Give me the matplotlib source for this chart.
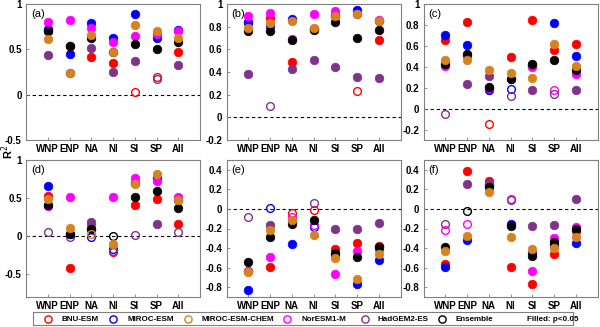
import matplotlib
matplotlib.use('Agg')
import matplotlib.pyplot as plt
from matplotlib.ticker import FormatStrFormatter

plt.rcParams['font.family'] = ['Liberation Sans', 'DejaVu Sans']

REGIONS = ['WNP', 'ENP', 'NA', 'NI', 'SI', 'SP', 'All']
MODELS = ['BNU-ESM', 'MIROC-ESM', 'MIROC-ESM-CHEM', 'NorESM1-M', 'HadGEM2-ES', 'Ensemble']
COLORS = ['#ff0000', '#0000ff', '#d6821f', '#ff00ff', '#7f348c', '#000000']

# R^2 per model (rows follow MODELS), columns follow REGIONS
R2_A = [
	[0.70, 0.54, 0.42, 0.35, 0.03, 0.20, 0.47],
	[0.72, 0.45, 0.79, 0.63, 0.89, 0.62, 0.71],
	[0.61, 0.24, 0.66, 0.47, 0.77, 0.70, 0.62],
	[0.80, 0.82, 0.74, 0.58, 0.65, 0.67, 0.70],
	[0.44, 0.24, 0.51, 0.25, 0.37, 0.17, 0.33],
	[0.70, 0.54, 0.63, 0.47, 0.56, 0.50, 0.58],
]
SIG_A = [
	[1, 1, 1, 1, 0, 0, 1],
	[1, 1, 1, 1, 1, 1, 1],
	[1, 1, 1, 1, 1, 1, 1],
	[1, 1, 1, 1, 1, 1, 1],
	[1, 1, 1, 1, 1, 0, 1],
	[1, 1, 1, 1, 1, 1, 1],
]
R2_B = [
	[0.83, 0.88, 0.49, 0.78, 0.89, 0.23, 0.68],
	[0.84, 0.81, 0.87, 0.78, 0.90, 0.95, 0.85],
	[0.79, 0.83, 0.85, 0.79, 0.89, 0.91, 0.85],
	[0.89, 0.92, 0.69, 0.91, 0.94, 0.91, 0.86],
	[0.38, 0.10, 0.43, 0.51, 0.44, 0.36, 0.35],
	[0.76, 0.76, 0.68, 0.77, 0.84, 0.70, 0.77],
]
SIG_B = [
	[1, 1, 1, 1, 1, 0, 1],
	[1, 1, 1, 1, 1, 1, 1],
	[1, 1, 1, 1, 1, 1, 1],
	[1, 1, 1, 1, 1, 1, 1],
	[1, 0, 1, 1, 1, 1, 1],
	[1, 1, 1, 1, 1, 1, 1],
]
R2_C = [
	[0.66, 0.83, -0.15, 0.49, 0.85, 0.56, 0.62],
	[0.70, 0.61, 0.18, 0.19, 0.42, 0.82, 0.50],
	[0.46, 0.46, 0.37, 0.34, 0.29, 0.62, 0.41],
	[0.41, 0.50, 0.20, 0.28, 0.40, 0.18, 0.33],
	[-0.05, 0.24, 0.31, 0.12, 0.18, 0.14, 0.18],
	[0.43, 0.52, 0.21, 0.28, 0.43, 0.46, 0.37],
]
SIG_C = [
	[1, 1, 0, 1, 1, 1, 1],
	[1, 1, 1, 0, 1, 1, 1],
	[1, 1, 1, 1, 1, 1, 1],
	[1, 1, 1, 1, 1, 0, 1],
	[0, 1, 1, 0, 1, 0, 1],
	[1, 1, 1, 1, 1, 1, 1],
]
R2_D = [
	[0.53, -0.42, 0.09, -0.21, 0.41, 0.49, 0.16],
	[0.66, 0.03, -0.01, -0.17, 0.70, 0.77, 0.47],
	[0.49, 0.11, 0.03, -0.11, 0.69, 0.81, 0.47],
	[0.39, 0.51, 0.14, 0.51, 0.77, 0.72, 0.51],
	[0.06, -0.01, 0.19, -0.19, 0.02, 0.16, 0.06],
	[0.41, 0.03, 0.09, 0.00, 0.52, 0.59, 0.37],
]
SIG_D = [
	[1, 1, 1, 0, 1, 1, 1],
	[1, 1, 0, 0, 1, 1, 1],
	[1, 1, 0, 1, 1, 1, 1],
	[1, 1, 1, 1, 1, 1, 1],
	[0, 0, 1, 0, 0, 1, 0],
	[1, 1, 1, 0, 1, 1, 1],
]
R2_E = [
	[-0.63, -0.59, -0.04, -0.01, -0.41, -0.35, -0.38],
	[-0.83, 0.01, -0.36, -0.18, -0.47, -0.77, -0.52],
	[-0.64, -0.22, -0.11, -0.27, -0.50, -0.72, -0.46],
	[-0.63, -0.49, -0.08, -0.16, -0.67, -0.43, -0.41],
	[-0.08, -0.16, -0.12, 0.06, -0.20, -0.20, -0.14],
	[-0.54, -0.29, -0.15, -0.11, -0.45, -0.49, -0.39],
]
SIG_E = [
	[1, 1, 0, 0, 1, 1, 1],
	[1, 0, 1, 0, 1, 1, 1],
	[1, 1, 1, 1, 1, 1, 1],
	[1, 1, 0, 0, 1, 1, 1],
	[0, 1, 1, 0, 1, 1, 1],
	[1, 1, 1, 1, 1, 1, 1],
]
R2_F = [
	[-0.56, 0.39, 0.29, -0.59, -0.77, -0.46, -0.23],
	[-0.59, -0.32, 0.24, -0.15, -0.45, -0.37, -0.35],
	[-0.43, -0.28, 0.17, -0.29, -0.41, -0.40, -0.29],
	[-0.22, -0.15, 0.24, 0.10, -0.63, -0.30, -0.18],
	[-0.15, 0.25, 0.27, 0.09, -0.17, -0.16, 0.10],
	[-0.39, -0.02, 0.22, -0.17, -0.48, -0.34, -0.21],
]
SIG_F = [
	[1, 1, 1, 1, 1, 1, 1],
	[1, 1, 1, 1, 1, 1, 1],
	[1, 1, 1, 1, 1, 1, 1],
	[0, 0, 1, 0, 1, 1, 1],
	[0, 1, 1, 0, 1, 1, 1],
	[1, 0, 1, 1, 1, 1, 1],
]

# drawing order of the models (orange ends up on top)
DRAW_ORDER = [0, 1, 3, 4, 5, 2]

W, H = 600, 327
fig = plt.figure(figsize=(W / 100, H / 100), dpi=100)

panels = [
	('(a)', R2_A, SIG_A, (26, 4, 140), (-0.5, 1), [-0.5, 0, 0.5, 1]),
	('(b)', R2_B, SIG_B, (226.5, 4, 140), (-0.2, 1), [-0.2, 0, 0.2, 0.4, 0.6, 0.8, 1]),
	('(c)', R2_C, SIG_C, (423.5, 4, 140), (-0.3, 1), [-0.2, 0, 0.2, 0.4, 0.6, 0.8, 1]),
	('(d)', R2_D, SIG_D, (26, 160, 297), (-0.8, 1), [-0.5, 0, 0.5, 1]),
	('(e)', R2_E, SIG_E, (226.5, 160, 297), (-0.9, 0.5), [-0.8, -0.6, -0.4, -0.2, 0, 0.2, 0.4]),
	('(f)', R2_F, SIG_F, (423.5, 160, 297), (-0.9, 0.5), [-0.8, -0.6, -0.4, -0.2, 0, 0.2, 0.4]),
]

xs = list(range(1, len(REGIONS) + 1))
spine_col = '0.5'

for label, vals, sig, (left, top, bottom), ylim, yticks in panels:
	ax = fig.add_axes([left / W, 1 - bottom / H, 174 / W, (bottom - top) / H])
	ax.axhline(0, color='k', ls='--', lw=0.8, dashes=(3, 2.5), zorder=1)
	for m in DRAW_ORDER:
		col = COLORS[m]
		for x, v, s in zip(xs, vals[m], sig[m]):
			if s:
				ax.plot(x, v, 'o', ms=6.2, mfc=col, mec=col, mew=0.5, zorder=3)
			else:
				ax.plot(x, v, 'o', ms=5.6, mfc='none', mec=col, mew=1.0, zorder=3)
	ax.set_xlim(0, 8)
	ax.set_ylim(*ylim)
	ax.set_xticks(xs)
	ax.set_xticklabels(REGIONS)
	ax.set_yticks(yticks)
	ax.yaxis.set_major_formatter(FormatStrFormatter('%g'))
	ax.tick_params(direction='in', length=2.5, width=0.6, color=spine_col,
				   labelsize=7, pad=3)
	for t in ax.get_xticklabels() + ax.get_yticklabels():
		t.set_fontweight('bold')
	for sp in ax.spines.values():
		sp.set_color(spine_col)
		sp.set_linewidth(0.8)
	ax.text(0.03, 0.96, label, transform=ax.transAxes, ha='left', va='top', fontsize=8)

fig.text(8 / W, 1 - 152 / H, 'R$^2$', rotation=90, ha='center', va='center',
		 fontsize=8, fontweight='bold')

# legend box drawn by hand
leg = fig.add_axes([33 / W, 1 - 325 / H, 540 / W, 13 / H])
leg.set_xlim(33, 573)
leg.set_ylim(0, 1)
leg.set_xticks([])
leg.set_yticks([])
for sp in leg.spines.values():
	sp.set_color(spine_col)
	sp.set_linewidth(0.8)
circle_x = [48, 113, 188, 287, 365, 442]
text_x = [62, 127, 202, 302, 378, 455]
for name, col, cx, tx in zip(MODELS, COLORS, circle_x, text_x):
	leg.plot(cx, 0.5, 'o', ms=5.2, mfc='none', mec=col, mew=1.0)
	leg.text(tx, 0.45, name, ha='left', va='center', fontsize=5.8, fontweight='bold')
leg.text(527, 0.45, 'Filled: p<0.05', ha='left', va='center', fontsize=5.8, fontweight='bold')

fig.savefig('out.png', dpi=100)
